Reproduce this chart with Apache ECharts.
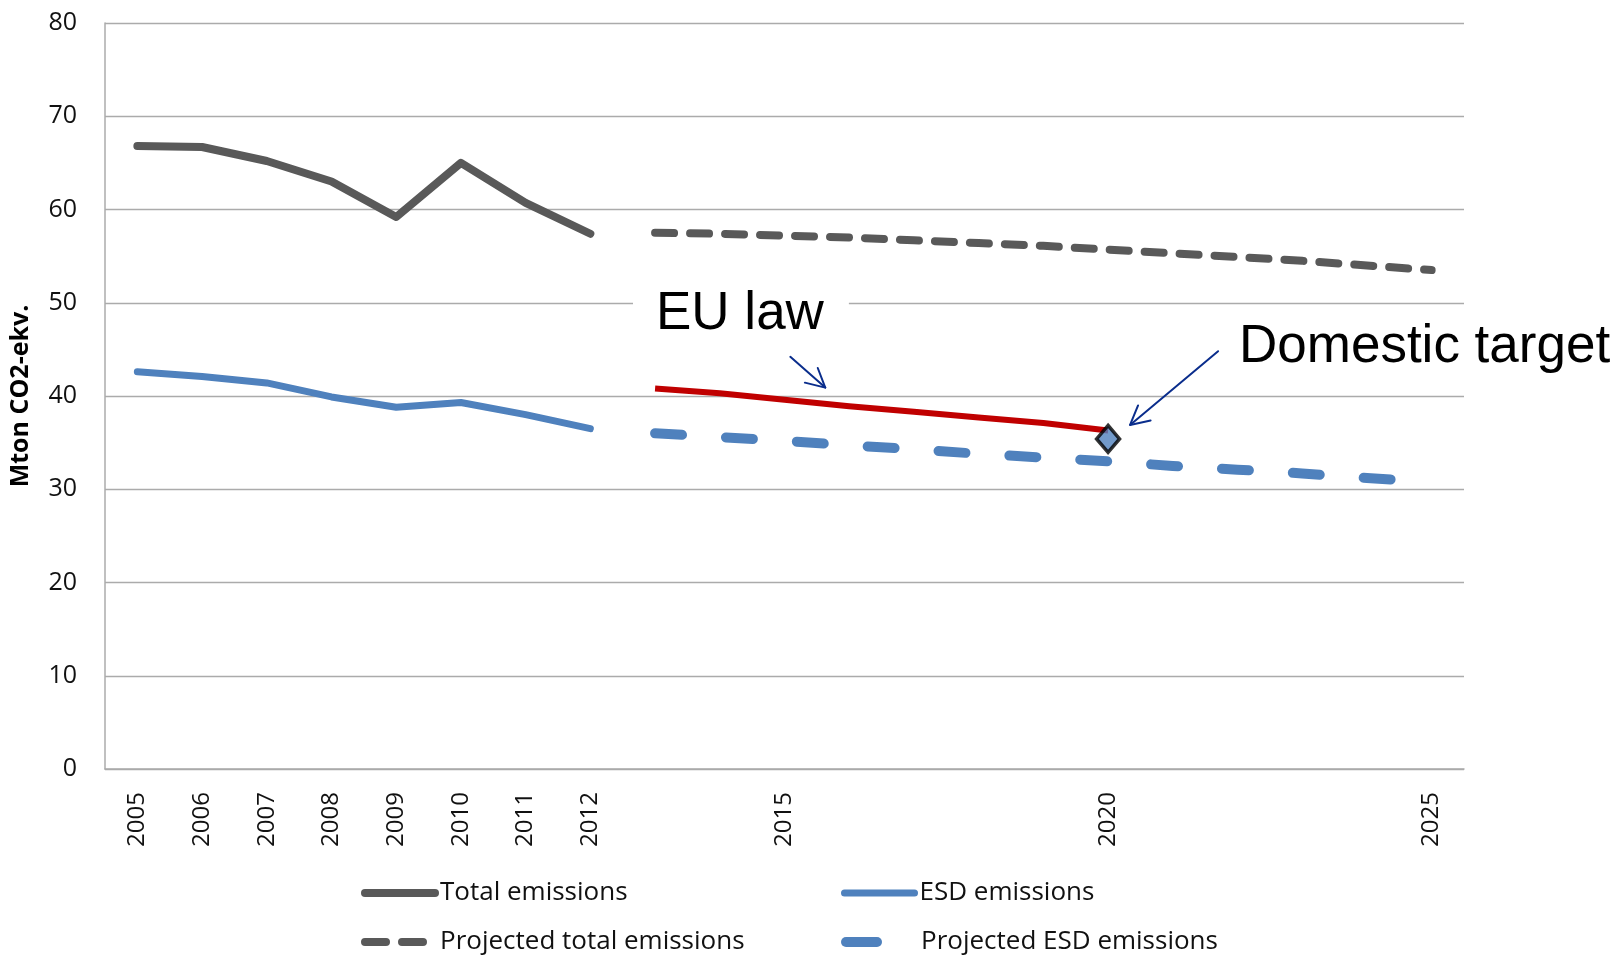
<!DOCTYPE html>
<html>
<head>
<meta charset="utf-8">
<title>Emissions</title>
<script src="https://cdn.jsdelivr.net/npm/echarts@6/dist/echarts.min.js"></script>
<style>
  html, body { margin: 0; padding: 0; background: #ffffff; }
  #chart { width: 1619px; height: 955px; }
</style>
</head>
<body>
<div id="chart"></div>
<script>
// ---- data -------------------------------------------------------------
const years = ['2005','2006','2007','2008','2009','2010','2011','2012','2013','2014',
               '2015','2016','2017','2018','2019','2020','2021','2022','2023','2024','2025'];
const labelledYears = ['2005','2006','2007','2008','2009','2010','2011','2012','2015','2020','2025'];

const totalEmissions = [66.8, 66.7, 65.2, 63.0, 59.2, 65.0, 60.7, 57.4];          // 2005-2012
const esdEmissions   = [42.6, 42.1, 41.4, 39.9, 38.8, 39.3, 38.0, 36.5];          // 2005-2012
const projectedTotal = [57.5, 57.4, 57.2, 57.0, 56.7, 56.4, 56.1, 55.7, 55.3, 54.9, 54.5, 54.0, 53.5]; // 2013-2025
const projectedEsd   = [36.0, 35.6, 35.2, 34.7, 34.3, 33.8, 33.4, 33.0, 32.5, 32.1, 31.7, 31.2, 30.8]; // 2013-2025
const euLawPath      = [40.8, 40.3, 39.6, 38.9, 38.3, 37.7, 37.1, 36.3];          // 2013-2020
const domesticTarget = 35.4;                                                       // 2020
const targetYear = '2020';

// place a run of values on the full year axis, starting at a given year
function onYears(startYear, values) {
  const start = years.indexOf(startYear);
  return years.map((y, i) => (i >= start && i - start < values.length) ? values[i - start] : '-');
}

const GRAY = '#595959';
const BLUE = '#4F81BD';
const RED = '#C00000';
const NAVY = '#0A2D8C';
const GRID_GRAY = '#ABABAB';
const FONT = "'Open Sans', 'Noto Sans', sans-serif";
const ANNOT_FONT = "'Liberation Sans', Arial, sans-serif";

const chart = echarts.init(document.getElementById('chart'), null, { renderer: 'canvas' });

// one legend per entry so the two columns line up
function legendEntry(name, left, top, dash) {
  return {
    data: [name],
    left: left,
    top: top,
    orient: 'horizontal',
    itemWidth: 70,
    itemHeight: 14,
    selectedMode: false,
    itemStyle: { opacity: 0 },
    lineStyle: { width: 'inherit', type: dash || 'solid', opacity: 1 },
    textStyle: { fontFamily: FONT, fontSize: 26, color: '#111' }
  };
}

chart.setOption({
  animation: false,
  backgroundColor: '#ffffff',
  grid: { left: 105, right: 155, top: 23, bottom: 186, containLabel: false, outerBoundsMode: 'none' },
  legend: [
    legendEntry('Total emissions', 356, 875),
    legendEntry('Projected total emissions', 356, 924, [21, 16]),
    legendEntry('ESD emissions', 836, 875),
    legendEntry('Projected ESD emissions', 836, 924, [31, 50])
  ],
  xAxis: {
    type: 'category',
    data: years,
    boundaryGap: true,
    axisLine: { show: true, lineStyle: { color: GRID_GRAY, width: 1.5 } },
    axisTick: { show: false },
    splitLine: { show: false },
    axisLabel: {
      rotate: 90,
      margin: 23,
      interval: (idx, value) => labelledYears.includes(value),
      fontFamily: FONT,
      fontSize: 24,
      color: '#111'
    }
  },
  yAxis: {
    type: 'value',
    min: 0,
    max: 80,
    interval: 10,
    name: 'Mton CO2-ekv.',
    nameLocation: 'middle',
    nameGap: 72,
    nameRotate: 90,
    nameTextStyle: { fontFamily: FONT, fontSize: 25, fontWeight: 'bold', color: '#000' },
    axisLine: { show: true, lineStyle: { color: GRID_GRAY, width: 1.5 } },
    axisTick: { show: false },
    splitLine: { show: true, lineStyle: { color: GRID_GRAY, width: 1.3 } },
    axisLabel: { margin: 28, fontFamily: FONT, fontSize: 25, color: '#111' }
  },
  series: [
    {
      name: 'Total emissions', type: 'line', symbol: 'none',
      data: onYears('2005', totalEmissions),
      lineStyle: { color: GRAY, width: 8, cap: 'round', join: 'round' },
      itemStyle: { color: GRAY }
    },
    {
      name: 'Projected total emissions', type: 'line', symbol: 'none',
      data: onYears('2013', projectedTotal),
      lineStyle: { color: GRAY, width: 8, type: [19, 16], cap: 'round', join: 'round' },
      itemStyle: { color: GRAY }
    },
    {
      name: 'ESD emissions', type: 'line', symbol: 'none',
      data: onYears('2005', esdEmissions),
      lineStyle: { color: BLUE, width: 7, cap: 'round', join: 'round' },
      itemStyle: { color: BLUE }
    },
    {
      name: 'Projected ESD emissions', type: 'line', symbol: 'none',
      data: onYears('2013', projectedEsd),
      lineStyle: { color: BLUE, width: 10, type: [27, 44], cap: 'round', join: 'round' },
      itemStyle: { color: BLUE }
    },
    {
      name: 'EU law', type: 'line', symbol: 'none', z: 4,
      data: onYears('2013', euLawPath),
      lineStyle: { color: RED, width: 6, cap: 'butt', join: 'round' },
      itemStyle: { color: RED }
    },
    {
      name: 'Domestic target', type: 'scatter', z: 5,
      symbol: 'diamond', symbolSize: [23, 27],
      data: onYears(targetYear, [domesticTarget]),
      itemStyle: { color: BLUE, borderColor: '#000', borderWidth: 3.5 }
    }
  ]
});

// ---- annotations ------------------------------------------------------
// convert a (fractional) category position and value into pixels
function toPx(pos, val) {
  const i0 = Math.floor(pos);
  const f = pos - i0;
  const a = chart.convertToPixel({ gridIndex: 0 }, [i0, val]);
  const b = chart.convertToPixel({ gridIndex: 0 }, [i0 + 1, val]);
  return [a[0] + (b[0] - a[0]) * f, a[1]];
}

function arrow(from, to) {
  const p0 = toPx(from[0], from[1]);
  const p1 = toPx(to[0], to[1]);
  const ang = Math.atan2(p1[1] - p0[1], p1[0] - p0[0]);
  const len = 21, spread = Math.PI / 6.5;
  const h1 = [p1[0] - len * Math.cos(ang - spread), p1[1] - len * Math.sin(ang - spread)];
  const h2 = [p1[0] - len * Math.cos(ang + spread), p1[1] - len * Math.sin(ang + spread)];
  const style = { stroke: NAVY, lineWidth: 2, fill: null, lineCap: 'round', lineJoin: 'round' };
  return [
    { type: 'polyline', z: 10, shape: { points: [p0, p1] }, style: style },
    { type: 'polyline', z: 10, shape: { points: [h1, p1, h2] }, style: style }
  ];
}

const targetIdx = years.indexOf(targetYear);

chart.setOption({
  graphic: [
    {
      type: 'text', z: 8, x: 633, y: 314,
      style: {
        text: 'EU law', fill: '#000', font: '53px ' + ANNOT_FONT,
        align: 'left', verticalAlign: 'middle',
        backgroundColor: '#ffffff', padding: [4, 25, 4, 23]
      }
    },
    {
      type: 'text', z: 8, x: 1239, y: 347,
      style: {
        text: 'Domestic target', fill: '#000', font: '53px ' + ANNOT_FONT,
        align: 'left', verticalAlign: 'middle'
      }
    }
  ]
    .concat(arrow([10.09, 44.2], [10.63, 40.9]))
    .concat(arrow([targetIdx + 1.70, 44.8], [targetIdx + 0.34, 36.9]))
});
</script>
</body>
</html>
